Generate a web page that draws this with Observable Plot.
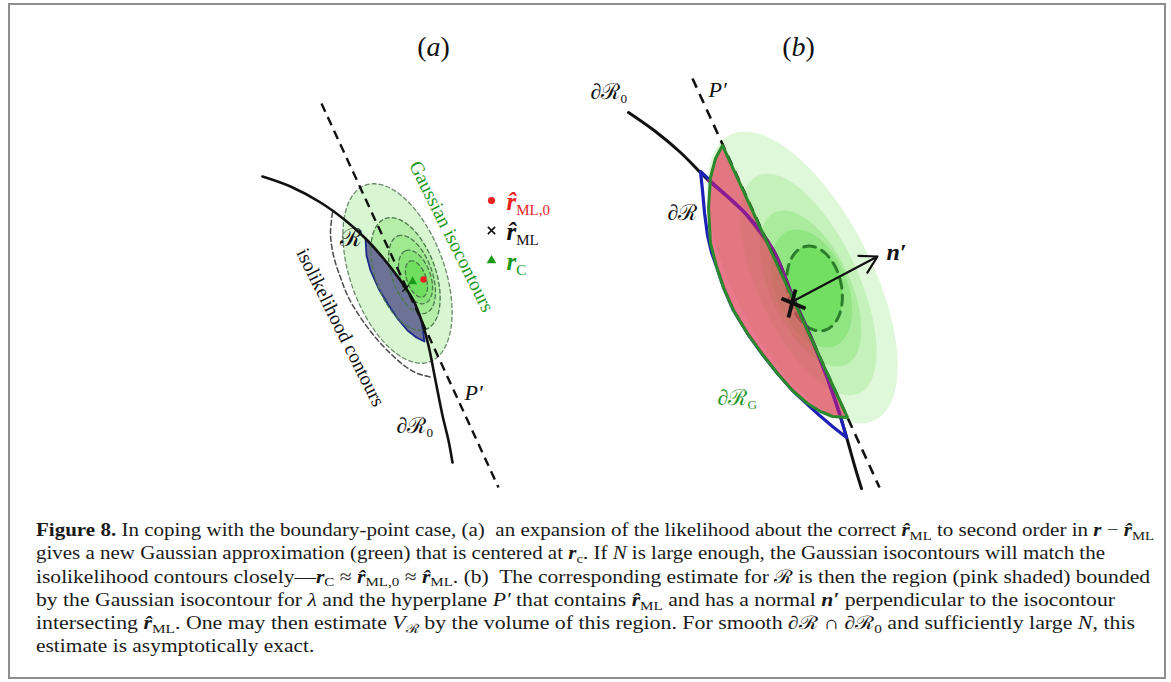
<!DOCTYPE html>
<html><head><meta charset="utf-8">
<script src="https://cdn.jsdelivr.net/npm/d3@7"></script>
<script src="https://cdn.jsdelivr.net/npm/@observablehq/plot@0.6"></script>
<style>
html,body{margin:0;padding:0;background:#fff}
body{width:1171px;height:682px;position:relative;overflow:hidden;font-family:"Liberation Serif",serif}
#frame{position:absolute;left:8px;top:3px;width:1154px;height:672px;border:2px solid #8e8e8e}
#chart{position:absolute;left:0;top:0}
#cap{position:absolute;left:36px;top:519px;font-size:18.5px;color:#1a1a1a;white-space:nowrap}
#cap > div{height:23.3px;line-height:23.3px;transform-origin:0 0}
#cap > div > span.ln{display:inline-block;line-height:23.3px}
#cap .s{font-size:0.7em;position:relative;top:0.28em;line-height:0}
</style></head><body>
<div id="frame"></div><div id="chart"></div><div id="cap"></div>
<script>
// ---------------- data (pixel units) ----------------
// Panel (a)
const boundaryA = [[262,176],[290,186],[320,202],[345,220],[365,238],[383,258],[400,280],[413,300],[421,320],[428,345],[435,380],[442,415],[448,440],[452,462]];
const planeA = [[321,103],[498,487]];
const isoLikA = [[332,212],[330,233],[333,255],[340,277],[348,297],[360,317],[375,337],[390,353],[405,366],[417,373],[432,377]];
const regionArcA = [[365,238],[366,255],[370,270],[378,288],[387,303],[397,318],[407,330],[416,337],[424,341]];
const gaussACx = [397,405,411.5,415,416];
const gaussACy = [273,273.5,274,276.5,278.5];
const gaussAA = [94,59,41,28,19];
const gaussAB = [47,30,20,15,9.5];
const gaussATilt = [20,20,20,20,20];
const mlA0 = [423,279], mlA = [405,288], cA = [412,281];
const legendMarks = [[491,200,"ml0"],[491,230,"ml"],[491,260,"c"]];

// Panel (b)
const boundaryB = [[628,112],[655,131],[680,152],[708,180],[745,213],[773,250],[793,298],[811,338],[827,378],[839,413],[847,440],[854,465],[861,488]];
const planeB = [[692,78],[879,487]];
const regionArcB = [[700,171],[702,190],[704,212],[707,235],[711,252],[716,266],[723,287],[733,310],[747,333],[762,354],[777,373],[792,390],[806,403],[818,414],[832,426],[846,437]];
const gaussArcB = [[722,145],[715,158],[710,177],[708,207],[710,243],[716,266],[723,287],[733,310],[747,333],[762,354],[777,373],[792,390],[807,403],[820,411],[832,416],[847,417]];
const gaussBCx = [802,808,810,811,814];
const gaussBCy = [277,284,288,288,288];
const gaussBA = [160,120,84,62,43];
const gaussBB = [69,50,40,36,27];
const gaussBTilt = [27,25,25,22,12];
const normalB = [{x1:792,y1:301,x2:877,y2:256}];
const crossB = [{x1:781,y1:298,x2:805,y2:308},{x1:795,y1:289,x2:788,y2:317}];

// Text
const titles = [{x:433,y:47,t:"(~a~)"},{x:798,y:47,t:"(~b~)"}];
const mathLabels = [
  {x:350,y:237,t:"ℛ",size:25,anchor:"middle"},
  {x:396,y:425,t:"∂ℛ|0",size:22,anchor:"start"},
  {x:464,y:392,t:"~P′~",size:22,anchor:"start"},
  {x:590,y:91,t:"∂ℛ|0",size:22,anchor:"start"},
  {x:708,y:89,t:"~P′~",size:22,anchor:"start"},
  {x:667,y:212,t:"∂ℛ",size:22,anchor:"start"}
];
const greenLabels = [{x:717,y:397,t:"∂ℛ|G"}];
const legendText = [{x:506,y:201,t:"r\u0302|ML,0",c:"#e8231f"},{x:506,y:231,t:"r\u0302|ML",c:"#111"},{x:506,y:261,t:"r|C",c:"#1c9a1c"}];
const nLabel = [{x:886,y:252,t:"n′"}];
const rotLabels = [{x:340,y:327,t:"isolikelihood contours",c:"#111"},{x:451,y:236,t:"Gaussian isocontours",c:"#1f9a1f"}];

const captionLines = [
  '<b>Figure 8.</b> In coping with the boundary-point case, (a)&nbsp; an expansion of the likelihood about the correct RML to second order in <b><i>r</i></b> &minus; RML',
  'gives a new Gaussian approximation (green) that is centered at <b><i>r</i></b><span class="s">c</span>. If <i>N</i> is large enough, the Gaussian isocontours will match the',
  'isolikelihood contours closely&mdash;<b><i>r</i></b><span class="s">C</span> &asymp; R0 &asymp; RML. (b)&nbsp; The corresponding estimate for ℛ is then the region (pink shaded) bounded',
  'by the Gaussian isocontour for <i>λ</i> and the hyperplane <i>P′</i> that contains RML and has a normal <b><i>n′</i></b> perpendicular to the isocontour',
  'intersecting RML. One may then estimate <i>V</i><span class="s">ℛ</span> by the volume of this region. For smooth ∂ℛ &cap; ∂ℛ<span class="s">0</span> and sufficiently large <i>N</i>, this',
  'estimate is asymptotically exact.'
];
const captionRightEnds = [1154, 1105, 1150, 1115, 1135, null];

// ---------------- styles ----------------
const fillsA = ["#d8f6d1","#b5eda9","#9fe991","#87e377","#6fdd5e"];
const fillsB = ["#dff8d9","#c5f1bb","#abeb9e","#91e583","#72df62"];
const serif = "Liberation Serif, DejaVu Serif, serif";

// ---------------- helpers ----------------
function ellipse(cx, cy, a, b, tilt, n = 120) {
  const th = tilt * Math.PI / 180;
  const ux = -Math.sin(th), uy = -Math.cos(th), vx = Math.cos(th), vy = -Math.sin(th);
  return d3.range(n).map(i => {
    const t = 2 * Math.PI * i / n;
    return [cx + a*Math.cos(t)*ux + b*Math.sin(t)*vx, cy + a*Math.cos(t)*uy + b*Math.sin(t)*vy];
  });
}
const X = d => d[0], Y = d => d[1];
const line = (pts, o) => Plot.line(pts, {x: X, y: Y, ...o});

const ellA = gaussACx.map((_, i) => ellipse(gaussACx[i], gaussACy[i], gaussAA[i], gaussAB[i], gaussATilt[i]));
const ellB = gaussBCx.map((_, i) => ellipse(gaussBCx[i], gaussBCy[i], gaussBA[i], gaussBB[i], gaussBTilt[i]));

const segA = boundaryA.filter(p => p[1] > 238 && p[1] < 341).reverse();
const regionA = regionArcA.concat(segA);
const segB = boundaryB.filter(p => p[1] > 180 && p[1] < 437).reverse();
const regionB = regionArcB.concat(segB);
const purpleB = boundaryB.filter(p => p[1] >= 180 && p[1] <= 416);

const W = 1171, H = 495;
const marks = [];
// Panel (a)
ellA.forEach((e, i) => marks.push(line(e, {curve: "linear-closed", fill: fillsA[i], stroke: "none"})));
marks.push(line(isoLikA, {curve: "catmull-rom", stroke: "#4a4a4a", strokeWidth: 1.5, strokeDasharray: "5,3"}));
marks.push(line(regionA, {curve: "linear-closed", fill: "#6c7396", stroke: "#1c2a8a", strokeWidth: 1.8}));
ellA.forEach((e, i) => marks.push(line(e, {curve: "linear-closed", stroke: i === 0 ? "#6b8a6b" : "#4c784c", strokeWidth: 1.3, strokeDasharray: "4,3"})));
marks.push(line(planeA, {stroke: "#111", strokeWidth: 2.4, strokeDasharray: "9,6", strokeLinecap: "butt"}));
marks.push(line(boundaryA, {curve: "catmull-rom", stroke: "#111", strokeWidth: 2.6}));
marks.push(Plot.dot([mlA0], {x: X, y: Y, r: 3.2, fill: "#e8231f", stroke: "none"}));
marks.push(Plot.dot([cA], {x: X, y: Y, r: 3.4, symbol: "triangle", fill: "#1c9a1c", stroke: "none"}));
marks.push(Plot.dot([mlA], {x: X, y: Y, r: 3, symbol: "times", stroke: "#111", strokeWidth: 1.3}));
marks.push(Plot.dot(legendMarks.filter(d => d[2] === "ml0"), {x: X, y: Y, r: 3.6, fill: "#e8231f", stroke: "none"}));
marks.push(Plot.dot(legendMarks.filter(d => d[2] === "ml"), {x: X, y: Y, r: 3.4, symbol: "times", stroke: "#111", strokeWidth: 1.6}));
marks.push(Plot.dot(legendMarks.filter(d => d[2] === "c"), {x: X, y: Y, r: 3.6, symbol: "triangle", fill: "#1c9a1c", stroke: "none"}));
// Panel (b)
ellB.slice(0, 4).forEach((e, i) => marks.push(line(e, {curve: "linear-closed", fill: fillsB[i], stroke: "none"})));
marks.push(line(ellB[4], {curve: "linear-closed", fill: fillsB[4], stroke: "#2b7d2b", strokeWidth: 3, strokeDasharray: "10,7"}));
marks.push(line(boundaryB, {curve: "catmull-rom", stroke: "#111", strokeWidth: 3}));
marks.push(line(regionB, {curve: "linear-closed", stroke: "#1b22b5", strokeWidth: 3.2, fill: "#ffffff", fillOpacity: 0}));
marks.push(line(gaussArcB, {curve: "linear-closed", fill: "#e2405c", fillOpacity: 0.7, stroke: "none"}));
marks.push(line(purpleB, {curve: "catmull-rom", stroke: "#8a1c96", strokeWidth: 3.4}));
marks.push(line(planeB, {stroke: "#111", strokeWidth: 2.6, strokeDasharray: "10,7", strokeLinecap: "butt"}));
marks.push(line(gaussArcB, {curve: "linear-closed", stroke: "#2b8a2b", strokeWidth: 3}));
marks.push(Plot.arrow(normalB, {x1: "x1", y1: "y1", x2: "x2", y2: "y2", stroke: "#111", strokeWidth: 2.2, headLength: 13}));
marks.push(Plot.link(crossB, {x1: "x1", y1: "y1", x2: "x2", y2: "y2", stroke: "#111", strokeWidth: 3.8}));
// Text
marks.push(Plot.text(titles, {x: "x", y: "y", text: "t", fontSize: 28, fontFamily: serif, fill: "#111"}));
mathLabels.forEach(d => marks.push(Plot.text([d], {x: "x", y: "y", text: "t", fontSize: d.size, fontFamily: serif, fill: "#111", textAnchor: d.anchor, fontStyle: "normal"})));
marks.push(Plot.text(greenLabels, {x: "x", y: "y", text: "t", fontSize: 22, fontFamily: serif, fill: "#2b9a2b", textAnchor: "start"}));
marks.push(Plot.text(legendText, {x: "x", y: "y", text: "t", fill: "c", fontSize: 25, fontFamily: serif, fontWeight: "bold", fontStyle: "italic", textAnchor: "start"}));
marks.push(Plot.text(nLabel, {x: "x", y: "y", text: "t", fontSize: 24, fontFamily: serif, fontWeight: "bold", fontStyle: "italic", fill: "#111", textAnchor: "start"}));
marks.push(Plot.text(rotLabels, {x: "x", y: "y", text: "t", fill: "c", fontSize: 19.5, fontFamily: serif, rotate: 63.4, textAnchor: "middle"}));

const chart = Plot.plot({
  width: W, height: H, margin: 0,
  x: {domain: [0, W], axis: null},
  y: {domain: [H, 0], axis: null},
  color: {type: "identity"},
  style: {background: "transparent", overflow: "visible"},
  marks
});

// rich text: "~x~" italic segments, "|sub" subscript tail
const NS = "http://www.w3.org/2000/svg";
chart.querySelectorAll("text").forEach(t => {
  const s = t.textContent;
  if (!/[~|]/.test(s)) return;
  const [main, sub] = s.split("|");
  t.textContent = "";
  main.split("~").forEach((seg, i) => {
    if (!seg) return;
    const ts = document.createElementNS(NS, "tspan");
    ts.textContent = seg;
    if (i % 2 === 1) ts.setAttribute("font-style", "italic");
    t.appendChild(ts);
  });
  if (sub) {
    const ts = document.createElementNS(NS, "tspan");
    ts.textContent = sub;
    ts.setAttribute("font-size", "0.6em");
    ts.setAttribute("dy", "0.35em");
    ts.setAttribute("font-style", "normal");
    ts.setAttribute("font-weight", "normal");
    t.appendChild(ts);
  }
});
document.getElementById("chart").appendChild(chart);

// caption
const RML = '<b><i>r&#770;</i></b><span class="s">ML</span>';
const R0 = '<b><i>r&#770;</i></b><span class="s">ML,0</span>';
const cap = document.getElementById("cap");
const left = 36;
cap.innerHTML = captionLines.map(l => '<div><span class="ln">' + l.replace(/RML/g, RML).replace(/R0/g, R0) + '</span></div>').join("");
const rows = Array.from(cap.children);
const scales = rows.map((row, i) => captionRightEnds[i] ? (captionRightEnds[i] - left) / row.firstChild.getBoundingClientRect().width : null);
const known = scales.filter(s => s);
const avg = known.reduce((a, b) => a + b, 0) / known.length;
rows.forEach((row, i) => { row.style.transform = `scaleX(${scales[i] || avg})`; });
</script>
</body></html>
